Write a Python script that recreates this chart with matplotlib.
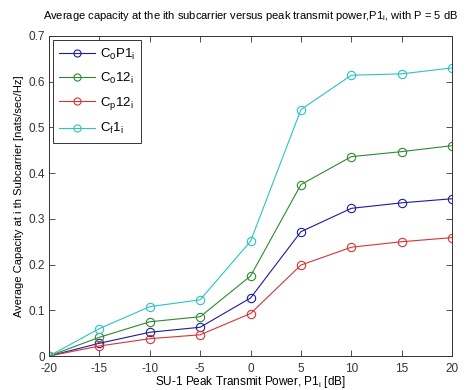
import numpy as np
import matplotlib
matplotlib.use('Agg')
import matplotlib.pyplot as plt

plt.rcParams['font.family'] = ['Liberation Sans', 'DejaVu Sans']
plt.rcParams['mathtext.fontset'] = 'custom'
plt.rcParams['mathtext.rm'] = 'Liberation Sans'
plt.rcParams['mathtext.it'] = 'Liberation Sans'
plt.rcParams['axes.unicode_minus'] = False

# peak transmit power P1_i [dB]
p1_db = [-20, -15, -10, -5, 0, 5, 10, 15, 20]

# average capacity at the ith subcarrier [nats/sec/Hz]
c0p1 = [0.0, 0.028, 0.052, 0.063, 0.127, 0.272, 0.323, 0.335, 0.344]
c012 = [0.0, 0.041, 0.075, 0.086, 0.175, 0.375, 0.436, 0.447, 0.460]
cp12 = [0.0, 0.022, 0.038, 0.0465, 0.093, 0.199, 0.238, 0.250, 0.259]
cf1 = [0.0, 0.060, 0.108, 0.123, 0.251, 0.539, 0.614, 0.617, 0.630]

labels = ['C$_0$P1$_i$', 'C$_0$12$_i$', 'C$_p$12$_i$', 'C$_f$1$_i$']
colors = ['#1c1c9c', '#2f8a2f', '#d83434', '#2cc4c4']

fig = plt.figure(figsize=(4.75, 3.9), dpi=100)
ax = fig.add_axes([0.103, 0.087, 0.849, 0.821])

for ys, lab, col in zip([c0p1, c012, cp12, cf1], labels, colors):
    ax.plot(p1_db, ys, '-o', color=col, lw=0.8, markersize=6,
            markerfacecolor='none', markeredgewidth=0.8, label=lab)

ax.set_xlim(-20, 20)
ax.set_ylim(0, 0.7)
ax.set_xticks(np.arange(-20, 21, 5))
ax.set_yticks(np.arange(0, 0.71, 0.1))
ax.set_yticklabels(['0', '0.1', '0.2', '0.3', '0.4', '0.5', '0.6', '0.7'])
ax.tick_params(direction='in', top=True, right=True, labelsize=8.5,
               length=4, width=0.6, colors='#333333')
ax.tick_params(axis='x', pad=5)
ax.tick_params(axis='y', pad=3)
for s in ax.spines.values():
    s.set_linewidth(0.7)
    s.set_color('#333333')

ax.set_xlabel('SU-1 Peak Transmit Power, P1$_i$ [dB]', fontsize=8.5, labelpad=-1)
ax.set_ylabel('Average Capacity at i th Subcarrier [nats/sec/Hz]', fontsize=8, labelpad=3)
ax.set_title('Average capacity at the ith subcarrier versus peak transmit power,P1$_i$, with P = 5 dB',
             fontsize=8, pad=12)

leg = ax.legend(loc='upper left', fontsize=9.5, fancybox=False, framealpha=1,
                edgecolor='#333333', borderpad=0.5, labelspacing=0.7,
                handlelength=2.7, handletextpad=0.35, borderaxespad=0.3,
                markerscale=0.85)
leg.get_frame().set_linewidth(0.7)

fig.savefig('out.png', dpi=100)
